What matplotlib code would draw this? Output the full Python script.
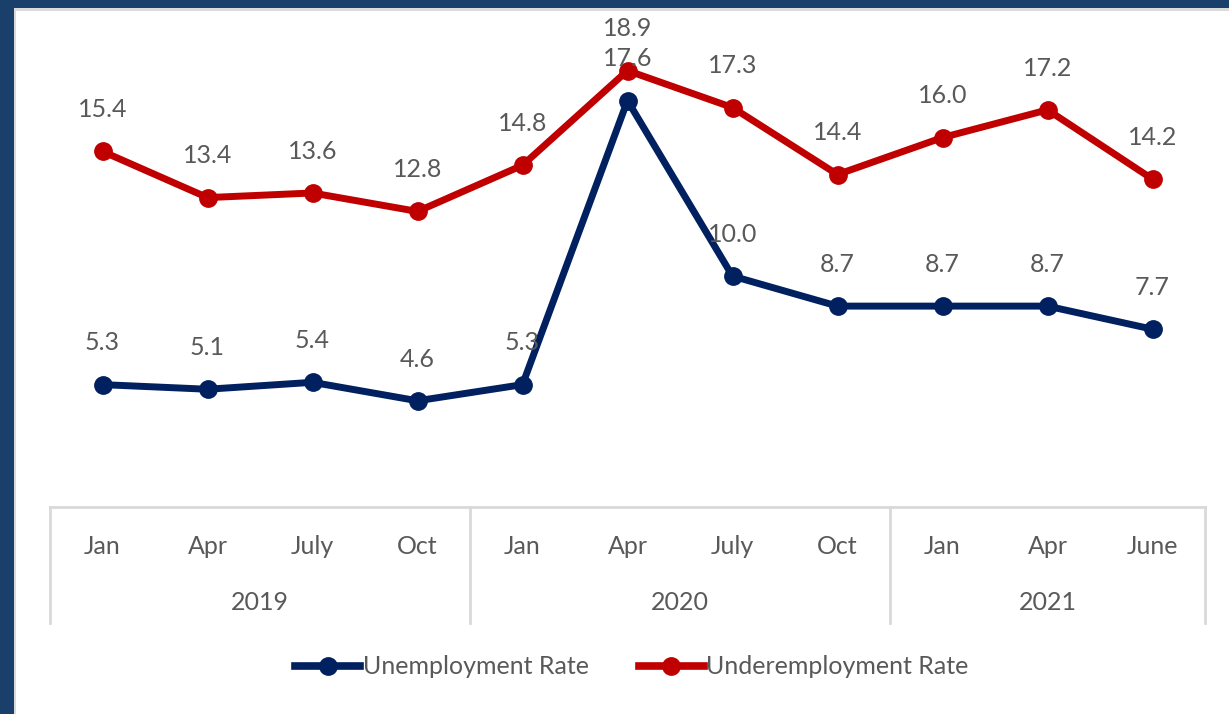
import matplotlib
matplotlib.use("Agg")
from matplotlib import pyplot as plt
from matplotlib.patches import Rectangle
from matplotlib.lines import Line2D

months = ["Jan", "Apr", "July", "Oct", "Jan", "Apr", "July", "Oct", "Jan", "Apr", "June"]
years = ["2019", "2020", "2021"]
yearSpans = [(0, 3), (4, 7), (8, 10)]
unemployment = [5.3, 5.1, 5.4, 4.6, 5.3, 17.6, 10.0, 8.7, 8.7, 8.7, 7.7]
underemployment = [15.4, 13.4, 13.6, 12.8, 14.8, 18.9, 17.3, 14.4, 16.0, 17.2, 14.2]

navy = "#002060"
red = "#C00000"
textGray = "#595959"
gridGray = "#D9D9D9"

plt.rcParams['font.family'] = ['Lato', 'DejaVu Sans']

fig = plt.figure(figsize=(12.29, 7.14), dpi=100)
fig.patch.set_facecolor("white")

# dark frame on the top and left edges, with a thin grey inner rim
fig.patches.append(Rectangle((0, 1 - 8 / 714), 1, 8 / 714, transform=fig.transFigure,
                             facecolor="#1A3F6B", edgecolor="none", zorder=0))
fig.patches.append(Rectangle((0, 0), 14 / 1229, 1, transform=fig.transFigure,
                             facecolor="#1A3F6B", edgecolor="none", zorder=0))
fig.patches.append(Rectangle((14 / 1229, 1 - 11 / 714), 1, 3 / 714, transform=fig.transFigure,
                             facecolor="#DADADA", edgecolor="none", zorder=0))
fig.patches.append(Rectangle((14 / 1229, 0), 2 / 1229, 1 - 8 / 714, transform=fig.transFigure,
                             facecolor="#DADADA", edgecolor="none", zorder=0))

ax = fig.add_axes([50 / 1229, 1 - 507 / 714, 1155 / 1229, 492 / 714])
ax.set_xlim(-0.5, 10.5)
ax.set_ylim(0, 492 / 23.09)
ax.axis("off")

x = list(range(len(months)))
ax.plot(x, unemployment, color=navy, linewidth=5, marker="o", markersize=12.5,
        solid_capstyle="round", label="Unemployment Rate", zorder=3)
ax.plot(x, underemployment, color=red, linewidth=5, marker="o", markersize=12.5,
        solid_capstyle="round", label="Underemployment Rate", zorder=3)

for xi, v in zip(x, unemployment):
    ax.annotate(f"{v:.1f}", (xi, v), xytext=(0, 30), textcoords="offset points",
                ha="center", va="center", fontsize=18, color=textGray, zorder=4)
for xi, v in zip(x, underemployment):
    ax.annotate(f"{v:.1f}", (xi, v), xytext=(0, 30), textcoords="offset points",
                ha="center", va="center", fontsize=18, color=textGray, zorder=4)

# category box under the plot: months on the first row, years on the second
trans = ax.get_xaxis_transform()
boxDepth = -116 / 492
ax.plot([-0.5, 10.5], [0, 0], transform=trans, color=gridGray, linewidth=2, clip_on=False)
for edge in [-0.5, 3.5, 7.5, 10.5]:
    ax.plot([edge, edge], [0, boxDepth], transform=trans, color=gridGray, linewidth=2, clip_on=False)
for xi, m in zip(x, months):
    ax.text(xi, -39 / 492, m, transform=trans, ha="center", va="center",
            fontsize=18, color=textGray)
for (a, b), yr in zip(yearSpans, years):
    ax.text((a + b) / 2, -96 / 492, yr, transform=trans, ha="center", va="center",
            fontsize=18, color=textGray)

handles = [Line2D([], [], color=navy, linewidth=5.5, marker="o", markersize=12.5),
           Line2D([], [], color=red, linewidth=5.5, marker="o", markersize=12.5)]
fig.legend(handles, ["Unemployment Rate", "Underemployment Rate"], loc="center",
           bbox_to_anchor=(632 / 1229, 1 - 667 / 714), ncol=2, frameon=False,
           fontsize=18, labelcolor=textGray, handlelength=2.6, handletextpad=0.1,
           columnspacing=2.0)

fig.savefig("out.png", dpi=100)
